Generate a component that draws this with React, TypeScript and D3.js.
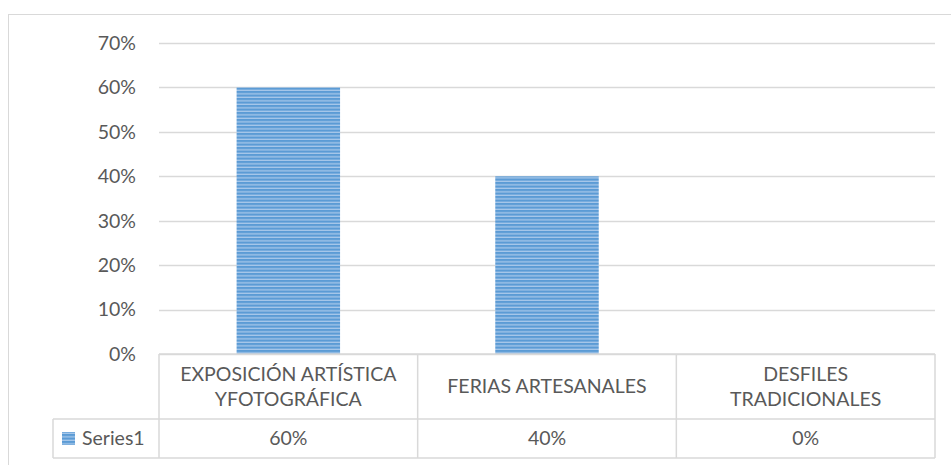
import * as d3 from 'd3';

const categories = ['EXPOSICIÓN ARTÍSTICA YFOTOGRÁFICA', 'FERIAS ARTESANALES', 'DESFILES TRADICIONALES'];
const categoryLines = [['EXPOSICIÓN ARTÍSTICA', 'YFOTOGRÁFICA'], ['FERIAS ARTESANALES'], ['DESFILES', 'TRADICIONALES']];
const values = [0.6, 0.4, 0];
const valueLabels = ['60%', '40%', '0%'];
const yTicks = [0, 0.1, 0.2, 0.3, 0.4, 0.5, 0.6, 0.7];
const seriesName = 'Series1';

const FONT = 'Lato, "Open Sans", sans-serif';
const FS = 19.5;
const TEXT = '#595959';
const GRID = '#d9d9d9';

export default function App() {
    const margin = { top: 43, left: 159, right: 935, bottom: 354 };

    const x = d3.scaleBand().domain(categories).range([margin.left, margin.right]).paddingInner(0).paddingOuter(0);
    const y = d3.scaleLinear().domain([0, 0.7]).range([margin.bottom, margin.top]);
    const fmt = d3.format('.0%');
    const barW = x.bandwidth() * 0.4;

    const row1Bottom = 419;
    const row2Bottom = 458;
    const legendLeft = 53;

    return (
        <svg width={951} height={465} style={{ position: 'absolute', left: 0, top: 0 }}>
            <defs>
                <pattern id="stripes" patternUnits="userSpaceOnUse" width={8} height={3.5}>
                    <rect width={8} height={3.5} fill="#a8c8ea" />
                    <rect width={8} height={2.2} fill="#5b9bd5" />
                </pattern>
            </defs>
            <rect width={951} height={465} fill="#fff" />
            <rect x={8.5} y={14.5} width={1000} height={500} fill="none" stroke={GRID} />

            {yTicks.map((t) => (
                <g key={t}>
                    <line x1={margin.left} x2={margin.right} y1={Math.round(y(t)) + 0.5} y2={Math.round(y(t)) + 0.5} stroke={GRID} strokeWidth={1.3} />
                    <text x={136} y={y(t)} dy="0.35em" textAnchor="end" fill={TEXT} fontFamily={FONT} fontSize={FS}>
                        {fmt(t)}
                    </text>
                </g>
            ))}

            {categories.map((c, i) => (
                <rect
                    key={c}
                    x={(x(c) ?? 0) + (x.bandwidth() - barW) / 2}
                    y={y(values[i])}
                    width={barW}
                    height={y(0) - y(values[i])}
                    fill="url(#stripes)"
                />
            ))}

            {/* data table */}
            <g stroke={GRID} strokeWidth={1.5} fill="none">
                <line x1={margin.left} x2={margin.right} y1={margin.bottom} y2={margin.bottom} />
                <line x1={legendLeft} x2={margin.right} y1={row1Bottom} y2={row1Bottom} />
                <line x1={legendLeft} x2={margin.right} y1={row2Bottom} y2={row2Bottom} />
                <line x1={legendLeft} x2={legendLeft} y1={row1Bottom} y2={row2Bottom} />
                {[...categories.map((c) => x(c) ?? 0), margin.right].map((v) => (
                    <line key={v} x1={v} x2={v} y1={margin.bottom} y2={row2Bottom} />
                ))}
            </g>

            {categories.map((c, i) => {
                const cx = (x(c) ?? 0) + x.bandwidth() / 2;
                const lines = categoryLines[i];
                const mid = (margin.bottom + row1Bottom) / 2;
                return (
                    <g key={c} fill={TEXT} fontFamily={FONT} fontSize={FS} textAnchor="middle">
                        {lines.map((l, j) => (
                            <text key={l} x={cx} y={mid + (j - (lines.length - 1) / 2) * 25} dy="0.35em">
                                {l}
                            </text>
                        ))}
                        <text x={cx} y={(row1Bottom + row2Bottom) / 2} dy="0.35em">
                            {valueLabels[i]}
                        </text>
                    </g>
                );
            })}

            <rect x={62} y={432} width={13} height={13} fill="url(#stripes)" />
            <text x={82} y={(row1Bottom + row2Bottom) / 2} dy="0.35em" fill={TEXT} fontFamily={FONT} fontSize={FS}>
                {seriesName}
            </text>
        </svg>
    );
}
